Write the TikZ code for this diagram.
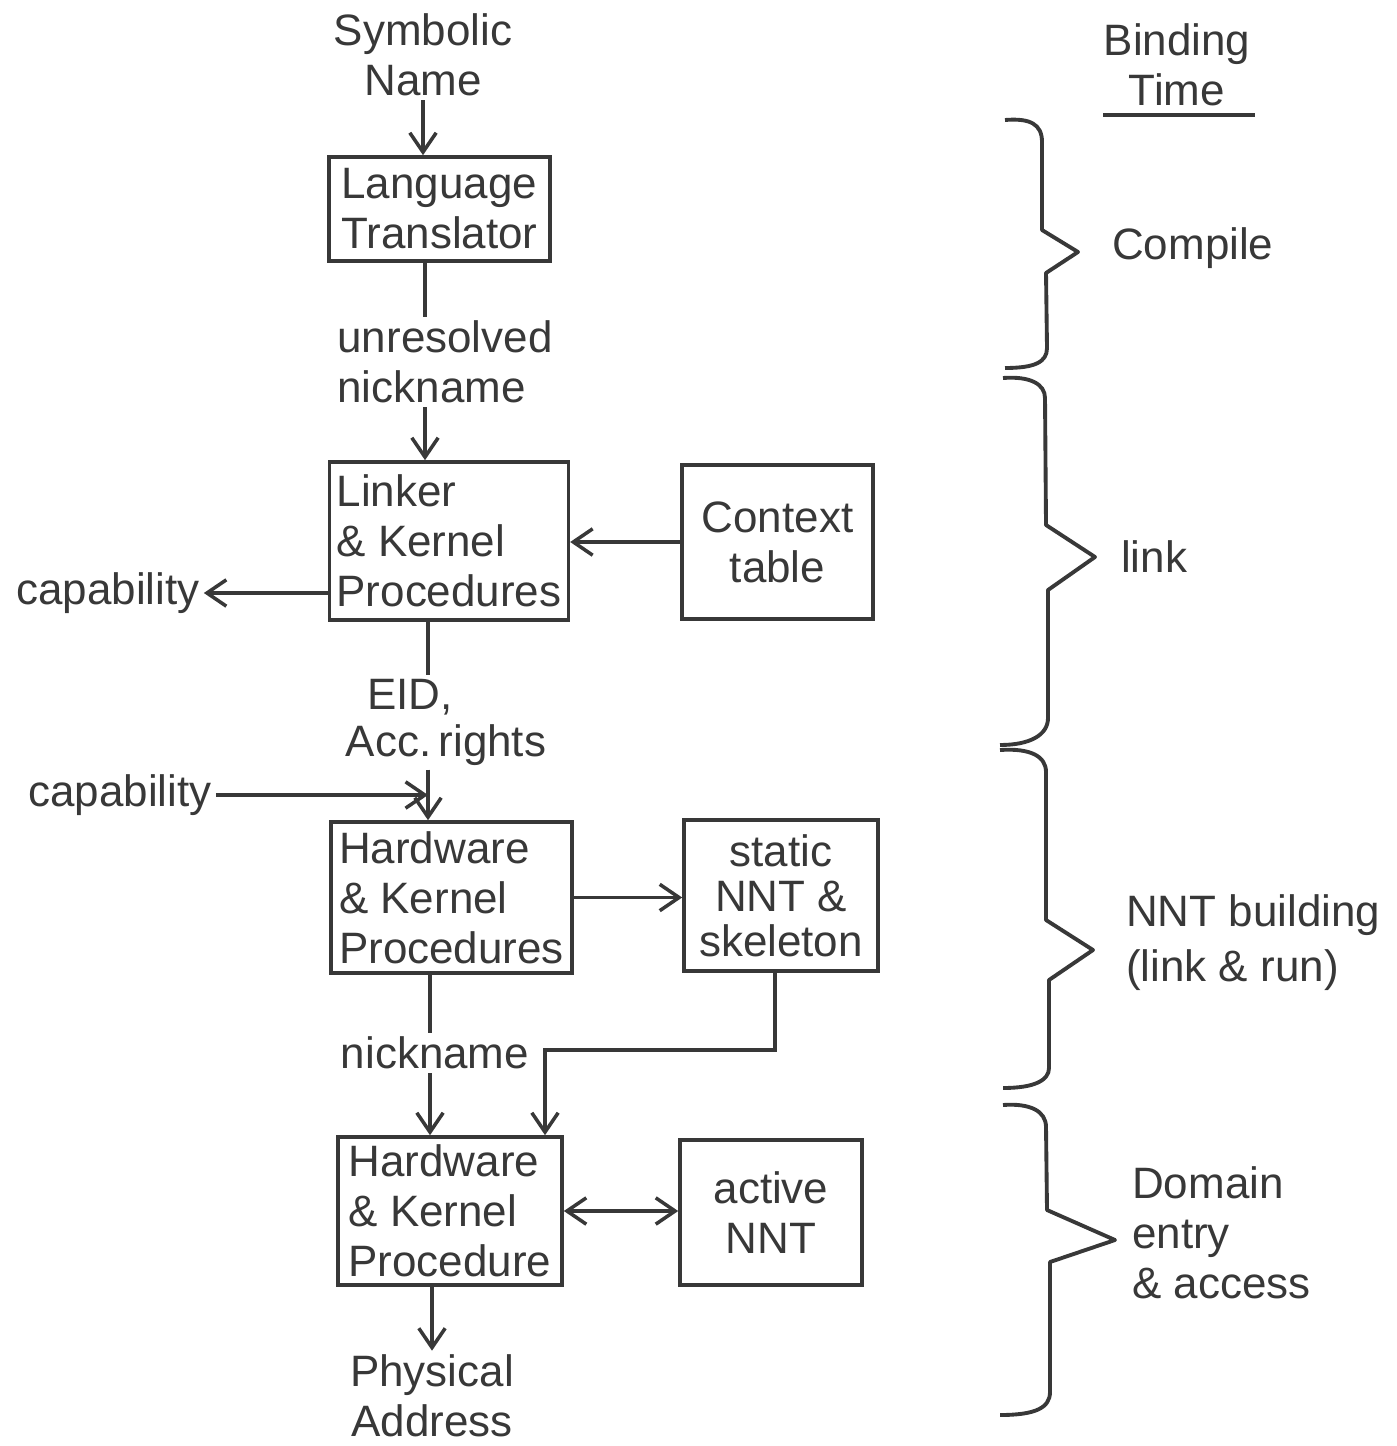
\documentclass[tikz,border=0pt]{standalone}
\usepackage{fontspec}
\setmainfont{Liberation Sans}
\usetikzlibrary{arrows.meta}
\definecolor{ink}{gray}{0.22}
\begin{document}
\begin{tikzpicture}[x=0.01cm,y=-0.01cm,
  every node/.style={font=\fontsize{12.5}{14.2}\selectfont, text=ink},
  box/.style={draw=ink, line width=1pt, rectangle, inner sep=2pt},
  lbl/.style={inner sep=1pt},
  ln/.style={draw=ink, line width=1pt},
  tip/.tip={Straight Barb[length=5.5pt,width=7.5pt]},
  arr/.style={ln, -tip},
  br/.style={draw=ink, line width=1.1pt, line join=round}]
\useasboundingbox (0,0) rectangle (1396,1446);

% nodes
\node[lbl, align=center] (sn) at (423,55) {Symbolic\\Name};
\node[box, minimum width=2.21cm, minimum height=1.04cm, align=left] (lt) at (439.5,209) {Language\\Translator};
\node[lbl, align=left] (ur) at (445,362) {unresolved\\nickname};
\node[box, minimum width=2.38cm, minimum height=1.58cm, align=left] (lk) at (449,541) {Linker\\\& Kernel\\Procedures};
\node[box, minimum width=1.91cm, minimum height=1.54cm, align=center] (ctx) at (777.5,542) {Context\\table};
\node[lbl] (cap1) at (108,593) {capability};
\node[lbl] (eid) at (410,697) {EID,};
\node[lbl] (acc) at (446,745) {Acc.\,rights};
\node[lbl] (cap2) at (120,795) {capability};
\node[box, minimum width=2.41cm, minimum height=1.51cm, align=left] (hw1) at (451.5,897.5) {Hardware\\\& Kernel\\Procedures};
\node[box, minimum width=1.94cm, minimum height=1.51cm, align=center] (st) at (781,895.5) {static\\[-1.4pt]NNT \&\\[-1.4pt]skeleton};
\node[lbl] (nn) at (435,1053) {nickname};
\node[box, minimum width=2.24cm, minimum height=1.48cm, align=left] (hw2) at (450,1211) {Hardware\\\& Kernel\\Procedure};
\node[box, minimum width=1.82cm, minimum height=1.45cm, align=center] (act) at (771,1212.5) {active\\NNT};
\node[lbl, align=center] (pa) at (432,1396) {Physical\\Address};

% right column
\node[lbl, align=center] (bt) at (1177,65) {Binding\\Time};
\coordinate (ul1) at (1103,115);
\coordinate (ul2) at (1255,115);
\draw[draw=ink, line width=1.4pt] (ul1) -- (ul2);
\node[lbl, anchor=west] (c1) at (1108,248) {Compile};
\node[lbl, anchor=west] (c2) at (1117,557) {link};
\node[lbl, anchor=west, align=left] (c3) at (1122,943) {NNT building\\[1.4pt](link \& run)};
\node[lbl, anchor=west, align=left] (c4) at (1128,1233) {Domain\\entry\\\& access};

% helper coordinates
\coordinate (x1) at (425,0);
\coordinate (x2) at (428,0);
\coordinate (x3) at (430,0);
\coordinate (x4) at (432,0);
\coordinate (x5) at (545,0);
\coordinate (x6) at (775,0);
\coordinate (j) at (428,795);
\coordinate (c) at (545,1050);

% connectors
\draw[arr] (sn.south) -- (lt.north -| sn.south);
\draw[ln] (lt.south -| x1) -- (ur.north -| x1);
\draw[arr] (ur.south -| x1) -- (lk.north -| x1);
\draw[arr] (ctx.west) -- (ctx.west -| lk.east);
\draw[arr] (cap1.east -| lk.west) -- (cap1.east);
\draw[ln] (lk.south -| x2) -- (eid.north -| x2);
\draw[arr] (acc.south -| x2) -- (hw1.north -| x2);
\draw[arr] (cap2.east) -- (j);
\draw[arr] (hw1.east) -- (hw1.east -| st.west);
\draw[ln] (hw1.south -| x3) -- (nn.north -| x3);
\draw[arr] (nn.south -| x3) -- (hw2.north -| x3);
\draw[arr] (st.south -| x6) |- (c) -- (hw2.north -| x5);
\draw[ln, tip-tip] (hw2.east) -- (hw2.east -| act.west);
\draw[arr] (hw2.south -| x4) -- (pa.north -| x4);

% braces
\draw[br] (1005,120) .. controls (1030,118) and (1042,124) .. (1042,142) -- (1042,230) -- (1078,252) -- (1046,273) -- (1047,348) .. controls (1047,362) and (1035,368) .. (1005,368);
\draw[br] (1003,378) .. controls (1030,376) and (1045,384) .. (1045,398) -- (1046,525) -- (1095,557) -- (1048,590) -- (1048,718) .. controls (1048,735) and (1030,745) .. (1000,745);
\draw[br] (1000,750) .. controls (1030,748) and (1046,756) .. (1046,772) -- (1046,920) -- (1093,950) -- (1049,980) -- (1049,1068) .. controls (1049,1080) and (1035,1088) .. (1003,1088);
\draw[br] (1003,1105) .. controls (1030,1103) and (1046,1111) .. (1046,1127) -- (1047,1210) -- (1115,1240) -- (1050,1262) -- (1050,1392) .. controls (1050,1408) and (1035,1415) .. (1000,1415);
\end{tikzpicture}
\end{document}
